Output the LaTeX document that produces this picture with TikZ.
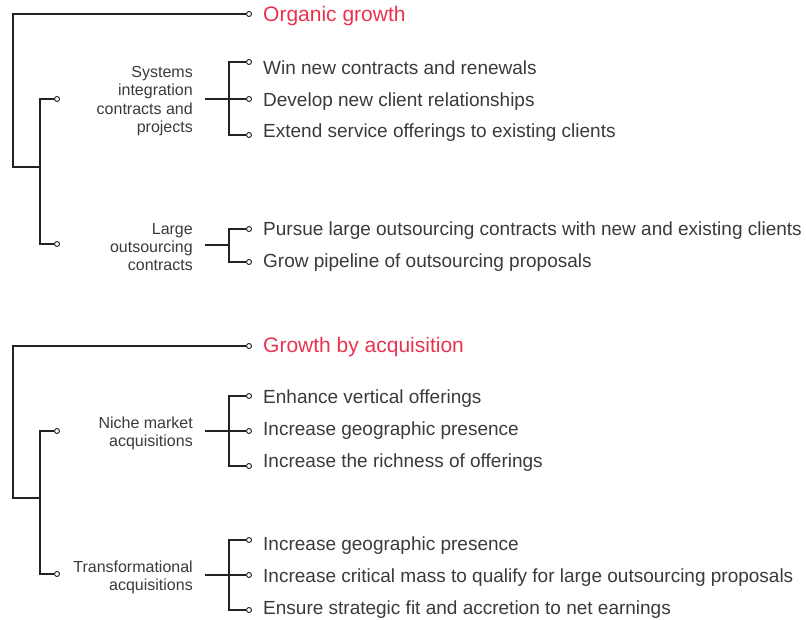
\documentclass[tikz,border=0pt]{standalone}
\usepackage{fontspec}
\setmainfont{Liberation Sans}
\definecolor{titlered}{HTML}{E8334F}
\definecolor{txtgray}{HTML}{3A3A3A}
\definecolor{linegray}{HTML}{222222}
\begin{document}
\begin{tikzpicture}[x=1pt,y=-1pt,
  conn/.style={draw=linegray,line width=1.25pt},
  dot/.style={circle,draw=linegray,fill=white,line width=0.9pt,minimum size=5pt,inner sep=0pt},
  item/.style={anchor=mid west,inner sep=0pt,text=txtgray,font=\fontsize{19}{22}\selectfont,yshift=-4pt},
  title/.style={anchor=mid west,inner sep=0pt,text=titlered,font=\fontsize{21}{24}\selectfont,yshift=-5pt},
  lab/.style={anchor=east,inner sep=0pt,align=right,text=txtgray,font=\fontsize{16}{18.2}\selectfont,yshift=-2pt}]
\useasboundingbox (0,0) rectangle (806,620);

% ---------- Organic growth ----------
\node[dot] (t1) at (249,14) {};
\node[title] (T1) at (263,14) {Organic growth};
\coordinate (o1) at (13,167);
\coordinate (b1) at (40,167);
\node[dot] (s1) at (57,99) {};
\node[dot] (s2) at (57,244) {};
\coordinate (v1) at (40,170);
\draw[conn] (t1.west) -| (o1) -- (b1);
\draw[conn] (s1.west) -| (v1) |- (s2.west);

\node[lab] (L1) at (193,99) {Systems\\integration\\contracts and\\projects};
\coordinate (h1) at (205,99);
\coordinate (k1) at (229,99);
\node[dot] (a1) at (249,62) {};
\node[dot] (a2) at (249,99) {};
\node[dot] (a3) at (249,135) {};
\draw[conn] (a1.west) -| (k1) |- (a3.west);
\draw[conn] (h1) -- (a2.west);
\node[item] (A1) at (263,68) {Win new contracts and renewals};
\node[item] (A2) at (263,100) {Develop new client relationships};
\node[item] (A3) at (263,131) {Extend service offerings to existing clients};

\node[lab] (L2) at (193,245) {Large\\outsourcing\\contracts};
\coordinate (h2) at (205,245);
\coordinate (k2) at (229,245);
\node[dot] (b1d) at (249,229) {};
\node[dot] (b2d) at (249,262) {};
\draw[conn] (b1d.west) -| (k2) |- (b2d.west);
\draw[conn] (h2) -- (k2);
\node[item] (B1) at (263,229) {Pursue large outsourcing contracts with new and existing clients};
\node[item] (B2) at (263,261) {Grow pipeline of outsourcing proposals};

% ---------- Growth by acquisition ----------
\node[dot] (t2) at (249,346) {};
\node[title] (T2) at (263,345) {Growth by acquisition};
\coordinate (o2) at (13,498);
\coordinate (b2) at (40,498);
\node[dot] (s3) at (57,431) {};
\node[dot] (s4) at (57,574) {};
\coordinate (v2) at (40,500);
\draw[conn] (t2.west) -| (o2) -- (b2);
\draw[conn] (s3.west) -| (v2) |- (s4.west);

\node[lab] (L3) at (193,431) {Niche market\\acquisitions};
\coordinate (h3) at (205,431);
\coordinate (k3) at (229,431);
\node[dot] (c1) at (249,396) {};
\node[dot] (c2) at (249,431) {};
\node[dot] (c3) at (249,466) {};
\draw[conn] (c1.west) -| (k3) |- (c3.west);
\draw[conn] (h3) -- (c2.west);
\node[item] (C1) at (263,397) {Enhance vertical offerings};
\node[item] (C2) at (263,429) {Increase geographic presence};
\node[item] (C3) at (263,461) {Increase the richness of offerings};

\node[lab] (L4) at (193,575) {Transformational\\acquisitions};
\coordinate (h4) at (205,575);
\coordinate (k4) at (229,575);
\node[dot] (d1) at (249,540) {};
\node[dot] (d2) at (249,575) {};
\node[dot] (d3) at (249,610) {};
\draw[conn] (d1.west) -| (k4) |- (d3.west);
\draw[conn] (h4) -- (d2.west);
\node[item] (D1) at (263,544) {Increase geographic presence};
\node[item] (D2) at (263,576) {Increase critical mass to qualify for large outsourcing proposals};
\node[item] (D3) at (263,608) {Ensure strategic fit and accretion to net earnings};
\end{tikzpicture}
\end{document}
